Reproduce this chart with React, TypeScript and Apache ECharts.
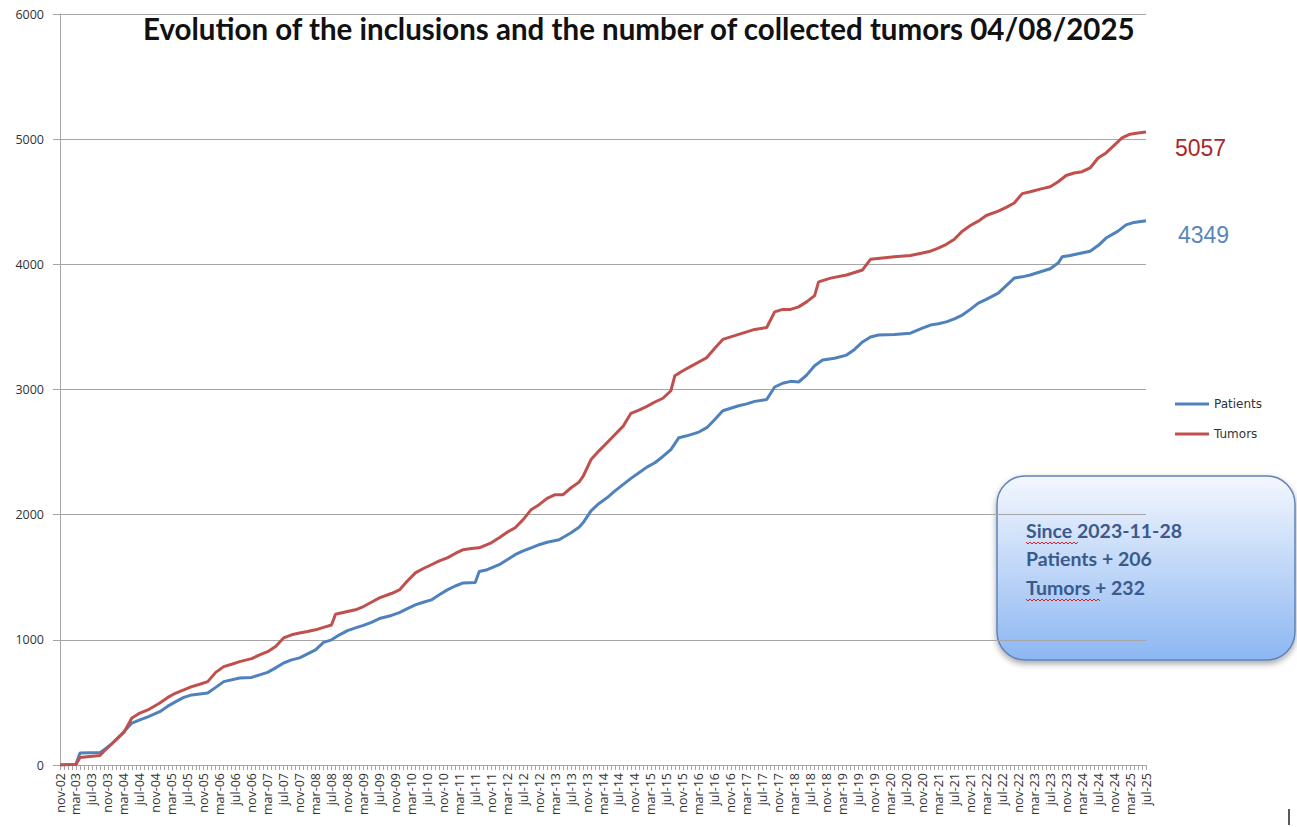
import React, { useEffect, useRef } from "react";
import * as echarts from "echarts";

// Month index counted from nov-02 (0) to jul-25 (272)
const tickLabels = [
  "nov-02", "mar-03", "jul-03", "nov-03", "mar-04", "jul-04", "nov-04", "mar-05", "jul-05", "nov-05",
  "mar-06", "jul-06", "nov-06", "mar-07", "jul-07", "nov-07", "mar-08", "jul-08", "nov-08", "mar-09",
  "jul-09", "nov-09", "mar-10", "jul-10", "nov-10", "mar-11", "jul-11", "nov-11", "mar-12", "jul-12",
  "nov-12", "mar-13", "jul-13", "nov-13", "mar-14", "jul-14", "nov-14", "mar-15", "jul-15", "nov-15",
  "mar-16", "jul-16", "nov-16", "mar-17", "jul-17", "nov-17", "mar-18", "jul-18", "nov-18", "mar-19",
  "jul-19", "nov-19", "mar-20", "jul-20", "nov-20", "mar-21", "jul-21", "nov-21", "mar-22", "jul-22",
  "nov-22", "mar-23", "jul-23", "nov-23", "mar-24", "jul-24", "nov-24", "mar-25", "jul-25",
];

const patientMonths = [
  0, 4, 5, 10, 11, 13, 16, 18, 20, 22, 25, 27, 29, 31, 33, 37, 39, 41, 45, 48, 50, 52, 54, 56, 58, 60,
  62, 64, 66, 68, 70, 72, 74, 76, 78, 80, 83, 85, 87, 89, 91, 93, 95, 97, 99, 101, 104, 105, 107, 110,
  112, 114, 116, 118, 120, 122, 125, 128, 130, 131, 133, 135, 137, 139, 141, 143, 145, 147, 149, 151,
  153, 155, 157, 160, 162, 164, 166, 168, 170, 172, 174, 177, 179, 181, 183, 185, 187, 189, 191, 194,
  197, 199, 201, 203, 205, 209, 213, 216, 218, 220, 222, 224, 226, 228, 230, 232, 235, 237, 239, 241,
  243, 246, 248, 250, 251, 253, 255, 258, 260, 262, 265, 267, 269, 272,
];
const patientValues = [
  0, 5, 95, 100, 120, 170, 266, 335, 360, 385, 426, 470, 506, 540, 560, 575, 620, 666, 695, 700, 720,
  740, 776, 815, 840, 856, 888, 920, 980, 1000, 1040, 1074, 1095, 1115, 1140, 1170, 1195, 1218, 1250,
  1279, 1300, 1319, 1360, 1399, 1430, 1455, 1458, 1546, 1560, 1600, 1640, 1680, 1710, 1735, 1760, 1780,
  1800, 1855, 1900, 1935, 2030, 2090, 2135, 2190, 2240, 2290, 2335, 2380, 2415, 2465, 2520, 2615, 2630,
  2660, 2695, 2760, 2830, 2850, 2870, 2885, 2905, 2920, 3020, 3050, 3065, 3060, 3115, 3190, 3235, 3250,
  3275, 3320, 3380, 3420, 3435, 3440, 3450, 3490, 3515, 3525, 3540, 3565, 3595, 3640, 3690, 3720, 3770,
  3830, 3890, 3900, 3915, 3945, 3965, 4010, 4060, 4070, 4085, 4105, 4150, 4210, 4265, 4315, 4335, 4349,
];

const tumorMonths = [
  0, 4, 5, 10, 11, 13, 16, 18, 20, 22, 25, 27, 29, 31, 33, 35, 37, 39, 41, 43, 45, 48, 50, 52, 54, 56,
  58, 60, 62, 64, 66, 68, 69, 72, 74, 76, 78, 80, 83, 85, 87, 89, 91, 93, 95, 97, 99, 101, 103, 105,
  108, 110, 112, 114, 116, 118, 120, 122, 124, 126, 128, 130, 131, 133, 135, 137, 139, 141, 143, 145,
  147, 149, 151, 153, 154, 156, 158, 160, 162, 164, 166, 168, 170, 172, 174, 177, 179, 181, 183, 185,
  187, 189, 190, 193, 197, 199, 201, 203, 206, 209, 213, 216, 218, 220, 222, 224, 226, 228, 230, 232,
  235, 237, 239, 241, 243, 246, 248, 250, 252, 254, 256, 258, 260, 262, 264, 266, 268, 270, 272,
];
const tumorValues = [
  0, 5, 60, 75, 110, 170, 260, 375, 415, 440, 495, 540, 575, 600, 626, 645, 666, 740, 786, 805, 826,
  850, 880, 905, 946, 1015, 1040, 1055, 1066, 1080, 1100, 1119, 1205, 1226, 1240, 1266, 1300, 1335,
  1370, 1399, 1470, 1535, 1570, 1600, 1630, 1655, 1690, 1720, 1730, 1735, 1775, 1815, 1860, 1895, 1960,
  2040, 2080, 2130, 2160, 2160, 2215, 2260, 2305, 2440, 2510, 2575, 2640, 2705, 2810, 2835, 2865, 2900,
  2930, 2990, 3110, 3150, 3185, 3220, 3255, 3330, 3400, 3420, 3440, 3460, 3480, 3495, 3620, 3640, 3640,
  3660, 3700, 3750, 3860, 3890, 3915, 3935, 3955, 4040, 4050, 4060, 4070, 4090, 4105, 4130, 4160, 4200,
  4265, 4310, 4345, 4390, 4425, 4455, 4490, 4565, 4580, 4605, 4620, 4660, 4710, 4730, 4740, 4770, 4850,
  4890, 4950, 5010, 5040, 5050, 5057,
];

const yTicks = [0, 1000, 2000, 3000, 4000, 5000, 6000];

const titleText = "Evolution of the inclusions and the number of collected tumors 04/08/2025";
const boxLines = ["Since 2023-11-28", "Patients + 206", "Tumors + 232"];

const BLUE = "#4f81bd";
const RED = "#c0504d";

function zigzag(x0: number, x1: number, y: number) {
  const pts: number[][] = [];
  let up = true;
  for (let x = x0; x <= x1; x += 2) {
    pts.push([x, up ? y : y + 2]);
    up = !up;
  }
  return pts;
}

export default function App() {
  const ref = useRef<HTMLDivElement>(null);
  useEffect(() => {
    document.body.style.margin = "0";
    const chart = echarts.init(ref.current!, null, { renderer: "svg" });
    const pData = patientMonths.map((m, i) => [m, patientValues[i]]);
    const tData = tumorMonths.map((m, i) => [m, tumorValues[i]]);
    chart.setOption({
      animation: false,
      backgroundColor: "#ffffff",
      grid: { left: 60, right: 151, top: 14, bottom: 62, containLabel: false },
      legend: {
        orient: "vertical",
        left: 1170,
        top: 393,
        itemWidth: 34,
        itemHeight: 3,
        itemGap: 18,
        icon: "rect",
        textStyle: { fontFamily: "DejaVu Sans", fontSize: 12, color: "#333333" },
        data: ["Patients", "Tumors"],
      },
      xAxis: {
        type: "value",
        min: 0,
        max: (tickLabels.length - 1) * 4,
        interval: 4,
        axisLine: { show: true, lineStyle: { color: "#a6a6a6", width: 1 } },
        axisTick: { show: true, length: 5, lineStyle: { color: "#a6a6a6" } },
        minorTick: { show: true, splitNumber: 4, length: 5, lineStyle: { color: "#a6a6a6" } },
        splitLine: { show: false },
        axisLabel: {
          rotate: 90,
          margin: 8,
          fontFamily: "Open Sans",
          fontSize: 12.5,
          color: "#333333",
          formatter: (v: number) => tickLabels[Math.round(v / 4)] ?? "",
        },
      },
      yAxis: {
        type: "value",
        min: yTicks[0],
        max: yTicks[yTicks.length - 1],
        interval: 1000,
        axisLine: { show: true, lineStyle: { color: "#a6a6a6", width: 1 } },
        axisTick: { show: true, length: 7, lineStyle: { color: "#a6a6a6" } },
        splitLine: { show: true, lineStyle: { color: "#a6a6a6", width: 1 } },
        axisLabel: {
          margin: 16,
          fontFamily: "Open Sans",
          fontSize: 12.5,
          color: "#333333",
          formatter: (v: number) => String(v),
        },
      },
      series: [
        {
          name: "Patients",
          type: "line",
          data: pData,
          symbol: "none",
          lineStyle: { color: BLUE, width: 3 },
          itemStyle: { color: BLUE },
          endLabel: {
            show: true,
            formatter: (p: any) => String(p.value[1]),
            offset: [24, 14],
            fontFamily: "Liberation Sans",
            fontSize: 23,
            color: "#5a86bd",
          },
        },
        {
          name: "Tumors",
          type: "line",
          data: tData,
          symbol: "none",
          lineStyle: { color: RED, width: 3 },
          itemStyle: { color: RED },
          endLabel: {
            show: true,
            formatter: (p: any) => String(p.value[1]),
            offset: [21, 16],
            fontFamily: "Liberation Sans",
            fontSize: 23,
            color: "#a8292b",
          },
        },
      ],
      graphic: [
        {
          type: "text",
          left: 143,
          top: 13,
          style: {
            text: titleText,
            fontFamily: "Lato",
            fontWeight: "bold",
            fontSize: 29.5,
            fill: "#111111",
          },
        },
        {
          type: "rect",
          shape: { x: 997, y: 476, width: 298, height: 184, r: 28 },
          style: {
            fill: new echarts.graphic.LinearGradient(0, 0, 0, 1, [
              { offset: 0, color: "#f3f7fe" },
              { offset: 1, color: "#8db7f2" },
            ]),
            stroke: "#5f82b8",
            lineWidth: 1.5,
            shadowBlur: 6,
            shadowOffsetY: 3,
            shadowColor: "rgba(0,0,0,0.35)",
          },
        },
        ...boxLines.map((t, i) => ({
          type: "text",
          x: 1026,
          y: 520 + i * 28.5,
          style: {
            text: t,
            fontFamily: "Lato",
            fontWeight: "bold",
            fontSize: 19.5,
            fill: "#3a5a8c",
          },
        })),
        {
          type: "polyline",
          shape: { points: zigzag(1026, 1078, 542) },
          style: { stroke: "#e02020", lineWidth: 1, fill: null },
        },
        {
          type: "polyline",
          shape: { points: zigzag(1026, 1100, 599) },
          style: { stroke: "#e02020", lineWidth: 1, fill: null },
        },
        {
          type: "line",
          shape: { x1: 1289, y1: 809, x2: 1289, y2: 825 },
          style: { stroke: "#222222", lineWidth: 1.5 },
        },
      ],
    });
    return () => chart.dispose();
  }, []);
  return <div ref={ref} style={{ width: 1297, height: 827 }} />;
}
